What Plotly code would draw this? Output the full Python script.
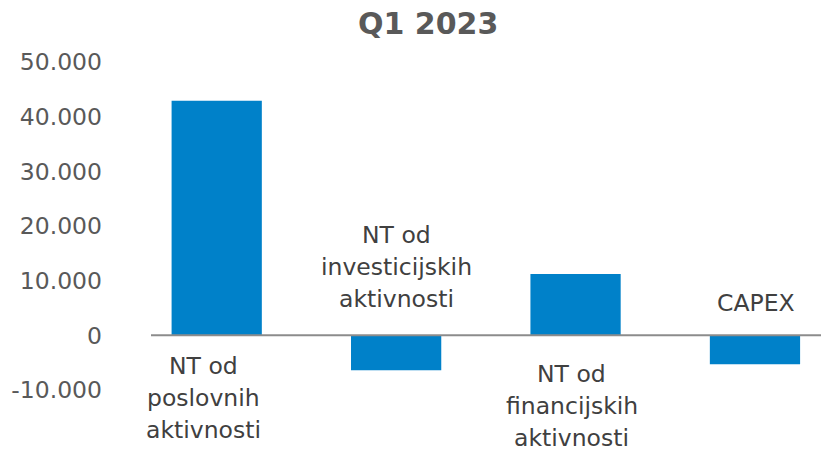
import plotly.graph_objects as go

# ---- data ----
categories = ["NT od poslovnih aktivnosti", "NT od investicijskih aktivnosti",
              "NT od financijskih aktivnosti", "CAPEX"]
values = [42900, -6400, 11200, -5300]
label_lines = [["NT od", "poslovnih", "aktivnosti"],
               ["NT od", "investicijskih", "aktivnosti"],
               ["NT od", "financijskih", "aktivnosti"],
               ["CAPEX"]]
tick_vals = [-10000, 0, 10000, 20000, 30000, 40000, 50000]
tick_text = ["-10.000", "0", "10.000", "20.000", "30.000", "40.000", "50.000"]
title_text = "Q1 2023"

# ---- style ----
FONT = "DejaVu Sans"
BAR = "#0081C9"
W, H = 821, 451
L, R, T, B = 127, 0, 62, 61
label_dx = [-13, 0, -4, 1]         # horizontal pixel nudges of labels
label_first_gap = [31, 36, 39, 32]  # pixel distance of nearest line from zero line
PITCH = 32

x = list(range(len(categories)))
fig = go.Figure(go.Bar(x=x, y=values, marker=dict(color=BAR, line=dict(width=0)),
                       width=0.503, hoverinfo="skip"))

annotations = []
for i, (lines, v) in enumerate(zip(label_lines, values)):
    n = len(lines)
    for j, line in enumerate(lines):
        if v >= 0:
            shift = -(label_first_gap[i] + PITCH * j)
        else:
            shift = label_first_gap[i] + PITCH * (n - 1 - j)
        annotations.append(dict(x=x[i], y=0, xref="x", yref="y", text=line,
                                showarrow=False, xshift=label_dx[i], yshift=shift,
                                yanchor="middle", xanchor="center",
                                font=dict(family=FONT, size=23.5, color="#404040")))

pw, ph = W - L - R, H - T - B
annotations.append(dict(x=(428 - L) / pw, y=1 + (T - 24) / ph, xref="paper", yref="paper",
                        text="<b>%s</b>" % title_text, showarrow=False,
                        xanchor="center", yanchor="middle",
                        font=dict(family=FONT, size=30, color="#595959")))

fig.update_layout(
    width=W, height=H,
    margin=dict(l=L, r=R, t=T, b=B),
    paper_bgcolor="white", plot_bgcolor="white",
    showlegend=False,
    annotations=annotations,
    shapes=[dict(type="line", xref="paper", yref="y", x0=(151 - L) / pw, x1=1,
                 y0=0, y1=0, line=dict(color="#8C8C8C", width=2), layer="above")],
)
fig.update_xaxes(range=[-0.5, 3.368], showticklabels=False, showgrid=False,
                 zeroline=False, showline=False, ticks="")
fig.update_yaxes(range=[-10000, 50000], tickvals=tick_vals, ticktext=tick_text,
                 showgrid=False, zeroline=False, showline=False, ticks="",
                 ticklabelstandoff=24,
                 tickfont=dict(family=FONT, size=23.5, color="#595959"))

fig.write_html("out.html", config={"displayModeBar": False},
               post_script="document.body.style.margin='0';document.body.style.overflow='hidden';")
